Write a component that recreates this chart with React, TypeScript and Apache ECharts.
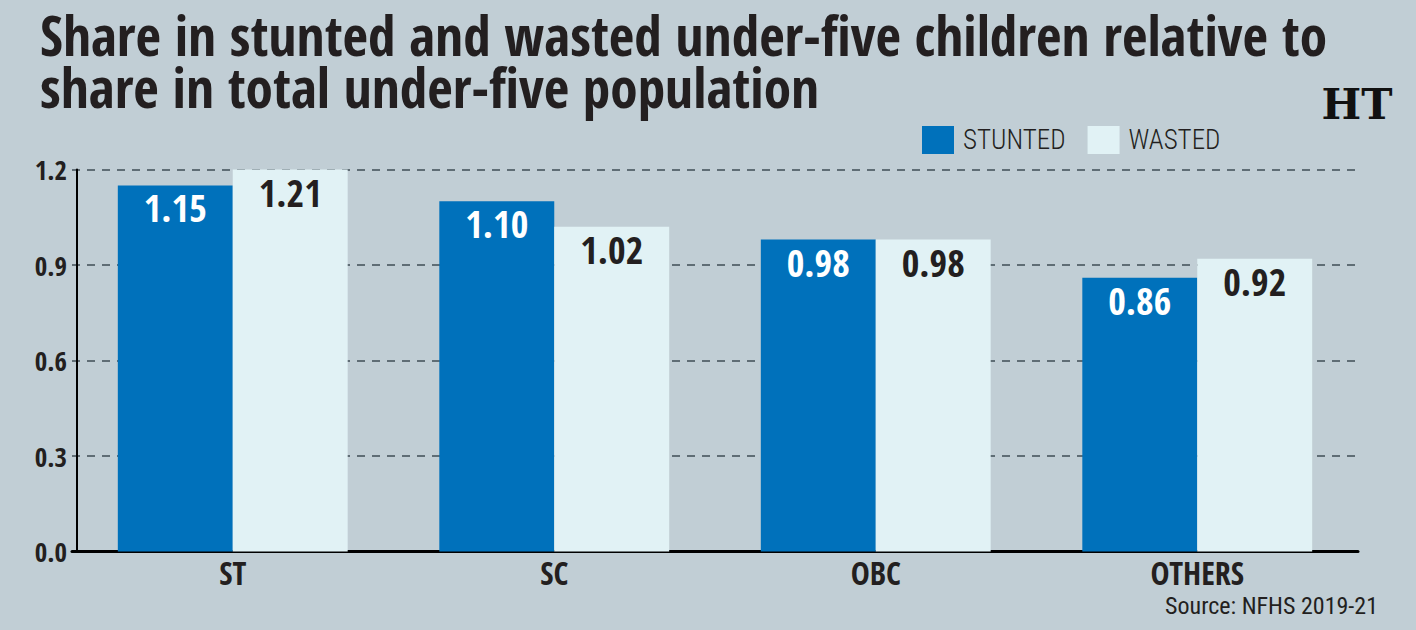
import React, { useEffect, useRef } from "react";
import * as echarts from "echarts";

const categories = ["ST", "SC", "OBC", "OTHERS"];
const stunted = [1.15, 1.1, 0.98, 0.86];
const wasted = [1.21, 1.02, 0.98, 0.92];
const yTicks = [0, 0.3, 0.6, 0.9, 1.2];

const titleLines = [
  "Share in stunted and wasted under-five children relative to",
  "share in total under-five population",
];
const sourceText = "Source: NFHS 2019-21";

const BG = "#c1ced5";
const BLUE = "#0071bb";
const PALE = "#e1f2f5";
const INK = "#231f20";
const FONT = "'Open Sans Condensed', 'Roboto Condensed', sans-serif";
const LIGHT_FONT = "'Roboto Condensed', 'Open Sans Condensed', sans-serif";

export default function App() {
  const ref = useRef<HTMLDivElement>(null);

  useEffect(() => {
    document.body.style.margin = "0";
    const chart = echarts.init(ref.current!, null, { renderer: "svg" });
    const label = (color: string) => ({
      show: true,
      position: "insideTop",
      distance: 3,
      color,
      fontFamily: FONT,
      fontWeight: "bold",
      fontSize: 38,
      formatter: (p: any) => Number(p.value).toFixed(2),
    });
    chart.setOption({
      animation: false,
      backgroundColor: BG,
      textStyle: { fontFamily: FONT },
      grid: { left: 72, right: 58, top: 169.5, bottom: 630 - 551.5 },
      legend: {
        left: 917,
        top: 121,
        itemWidth: 32,
        itemHeight: 28,
        itemGap: 22,
        icon: "rect",
        textStyle: { fontFamily: LIGHT_FONT, fontWeight: 300, fontSize: 27, color: INK, padding: [0, 0, 0, 4] },
        data: ["STUNTED", "WASTED"],
      },
      graphic: [
        {
          type: "text",
          x: 40,
          y: 8,
          style: {
            text: titleLines.join("\n"),
            fontFamily: FONT,
            fontWeight: "bold",
            fontSize: 55.4,
            lineHeight: 52,
            fill: INK,
            verticalAlign: "top",
          },
        },
        {
          type: "text",
          x: 1357,
          y: 104,
          style: {
            text: "HT",
            fontFamily: "'DejaVu Serif', serif",
            fontWeight: "bold",
            fontSize: 42,
            fill: "#111",
            align: "center",
            verticalAlign: "middle",
          },
        },
        {
          type: "text",
          x: 1378,
          y: 606,
          style: {
            text: sourceText,
            fontFamily: LIGHT_FONT,
            fontWeight: "normal",
            fontSize: 24,
            fill: INK,
            align: "right",
            verticalAlign: "middle",
          },
        },
      ],
      xAxis: {
        type: "category",
        data: categories,
        axisLine: { lineStyle: { color: "#000", width: 3 } },
        axisTick: { show: false },
        axisLabel: { color: INK, fontFamily: FONT, fontWeight: "bold", fontSize: 32, margin: 5 },
      },
      yAxis: {
        type: "value",
        min: 0,
        max: 1.2,
        interval: 0.3,
        offset: -5,
        axisLine: { show: true, lineStyle: { color: "#000", width: 2 } },
        axisTick: { show: false },
        axisLabel: {
          color: INK,
          fontFamily: FONT,
          fontWeight: "bold",
          fontSize: 27,
          margin: 10,
          formatter: (v: number) => (yTicks.includes(Math.round(v * 10) / 10) ? v.toFixed(1) : ""),
        },
        splitLine: { lineStyle: { color: "#5f6d75", width: 2, type: [8, 7] } },
      },
      series: [
        {
          name: "STUNTED",
          type: "bar",
          data: stunted,
          barGap: "0%",
          barCategoryGap: "28.5%",
          itemStyle: { color: BLUE },
          label: label("#ffffff"),
        },
        {
          name: "WASTED",
          type: "bar",
          data: wasted,
          itemStyle: { color: PALE },
          label: label(INK),
        },
      ],
    });
    return () => chart.dispose();
  }, []);

  return <div ref={ref} style={{ width: 1416, height: 630 }} />;
}
